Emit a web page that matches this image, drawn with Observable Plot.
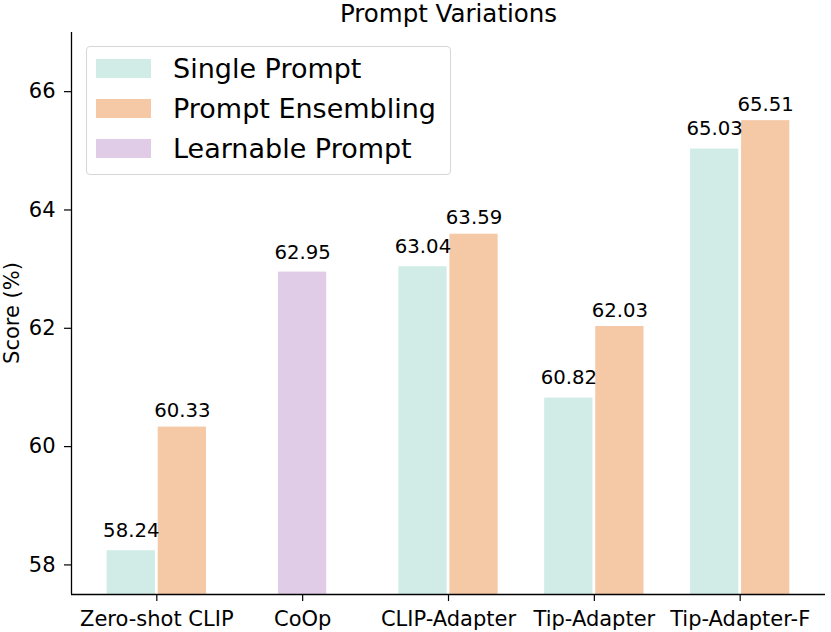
<!DOCTYPE html>
<html><head><meta charset="utf-8">
<script src="https://cdn.jsdelivr.net/npm/d3@7"></script>
<script src="https://cdn.jsdelivr.net/npm/@observablehq/plot@0.6"></script>
<style>
body{margin:0;background:#fff;font-family:"DejaVu Sans",sans-serif;}
#wrap{position:relative;width:831px;height:632px;}
#legend{position:absolute;left:85.5px;top:46px;width:365px;height:129px;border:1.3px solid #d6d6d6;border-radius:4px;background:rgba(255,255,255,0.8);box-sizing:border-box;}
.item{position:absolute;left:9.5px;height:40px;display:flex;align-items:center;font-size:27px;color:#000;white-space:nowrap;}
.sw{width:55px;height:19px;margin-right:22px;flex:none;}
#ylabel{position:absolute;left:12px;top:313px;transform:translate(-50%,-50%) rotate(-90deg);font-size:21px;line-height:1;white-space:nowrap;color:#000;}
</style></head>
<body><div id="wrap"></div>
<script>
const categories = ["Zero-shot CLIP", "CoOp", "CLIP-Adapter", "Tip-Adapter", "Tip-Adapter-F"];
const series = ["Single Prompt", "Prompt Ensembling", "Learnable Prompt"];
const singlePrompt = [58.24, null, 63.04, 60.82, 65.03];
const promptEnsembling = [60.33, null, 63.59, 62.03, 65.51];
const learnablePrompt = [null, 62.95, null, null, null];
const yTicks = [58, 60, 62, 64, 66];
const colors = ["#d1ece6", "#f5c9a6", "#e1cce8"];

const values = [singlePrompt, promptEnsembling, learnablePrompt];
const rows = [];
series.forEach((s, si) => values[si].forEach((v, i) => {
  if (v != null) rows.push({category: categories[i], idx: i, series: s, value: v});
}));
const offset = {"Single Prompt": -0.175, "Prompt Ensembling": 0.175, "Learnable Prompt": 0};
const labelDy = {"Single Prompt": -14, "Prompt Ensembling": -10, "Learnable Prompt": -13};
const W = 0.35;
const xDom = [-0.585, categories.length - 1 + 0.585];
const yDom = [57.5, 67];

const chart = Plot.plot({
  width: 831, height: 632,
  marginLeft: 71, marginRight: 6, marginTop: 32, marginBottom: 38,
  style: {fontFamily: "DejaVu Sans, sans-serif", fontSize: "21px", color: "#000", background: "#fff", overflow: "visible"},
  x: {domain: xDom, axis: null},
  y: {domain: yDom, axis: null},
  color: {domain: series, range: colors},
  marks: [
    Plot.rectY(rows, {
      x1: d => d.idx + offset[d.series] - W / 2,
      x2: d => d.idx + offset[d.series] + W / 2,
      y1: 0, y2: "value", fill: "series",
      insetLeft: 1.4, insetRight: 1.4, clip: true
    }),
    ...series.map(s => Plot.text(rows.filter(d => d.series === s), {
      x: d => d.idx + offset[d.series], y: "value", text: d => d.value.toFixed(2),
      lineAnchor: "bottom", dy: labelDy[s], fontSize: 19.7, fill: "#000"
    })),
    Plot.axisY({ticks: yTicks, tickSize: 7, tickPadding: 9, label: null, fontSize: 21, stroke: "#000", strokeWidth: 1.2}),
    Plot.axisX({ticks: d3.range(categories.length), tickFormat: i => categories[i], tickSize: 7, tickPadding: 10, label: null, fontSize: 21, stroke: "#000", strokeWidth: 1.2}),
    Plot.ruleX([xDom[0]], {stroke: "#000", strokeWidth: 1.3}),
    Plot.ruleY([yDom[0]], {stroke: "#000", strokeWidth: 1.3}),
    Plot.text(["Prompt Variations"], {frameAnchor: "top", dy: -11, lineAnchor: "bottom", fontSize: 24.5, fill: "#000"})
  ]
});
const wrap = document.getElementById("wrap");
wrap.appendChild(chart);

const ylabel = document.createElement("div");
ylabel.id = "ylabel";
ylabel.textContent = "Score (%)";
wrap.appendChild(ylabel);

const legend = document.createElement("div");
legend.id = "legend";
series.forEach((s, i) => {
  const item = document.createElement("div");
  item.className = "item";
  item.style.top = (68.5 + 40 * i - 20 - 46 - 1.3) + "px";
  const sw = document.createElement("div");
  sw.className = "sw";
  sw.style.background = colors[i];
  const t = document.createElement("span");
  t.textContent = s;
  item.appendChild(sw);
  item.appendChild(t);
  legend.appendChild(item);
});
wrap.appendChild(legend);
</script>
</body></html>
